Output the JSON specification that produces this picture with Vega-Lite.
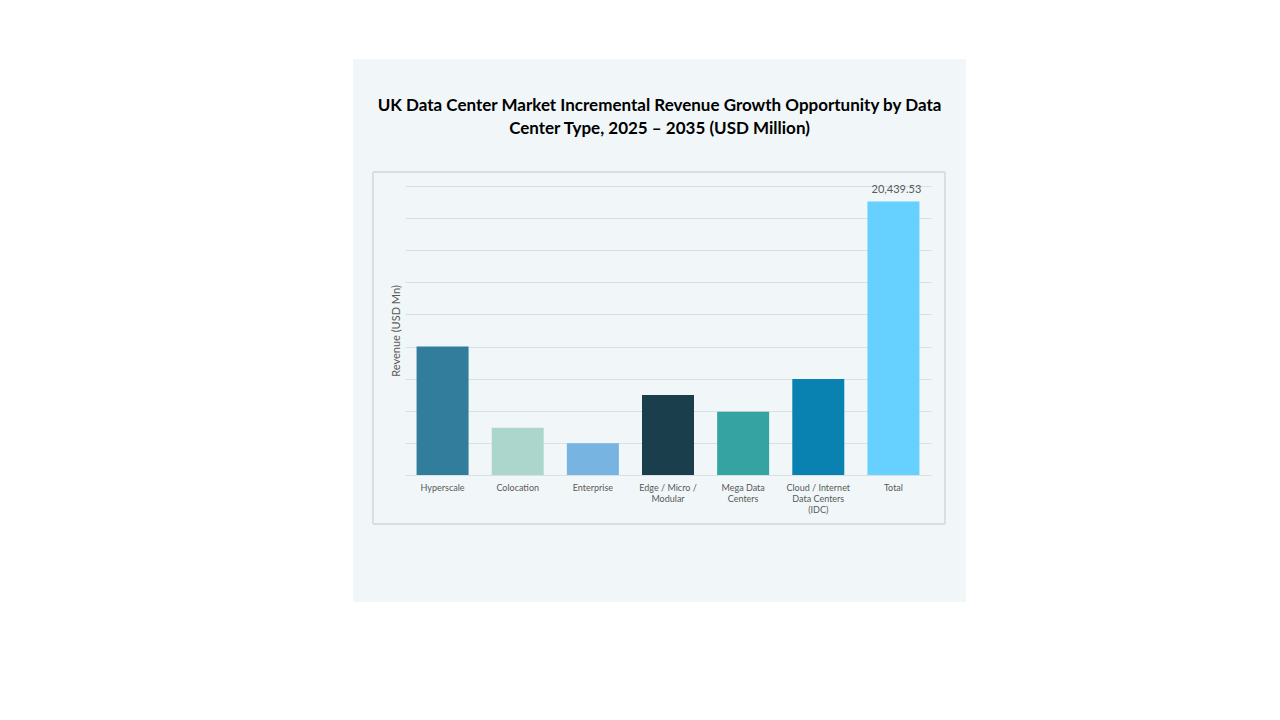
{
  "$schema": "https://vega.github.io/schema/vega-lite/v6.json",
  "description": "UK data center incremental revenue by type",
  "width": 613,
  "height": 543,
  "autosize": {"type": "none"},
  "padding": {"left": 353, "top": 59, "right": 314, "bottom": 118},
  "background": "white",
  "config": {
    "view": {"fill": "#f1f7f8", "stroke": null},
    "font": "Lato"
  },
  "data": {
    "values": [
      {"type": "Hyperscale", "value": 9600},
      {"type": "Colocation", "value": 3535},
      {"type": "Enterprise", "value": 2370},
      {"type": "Edge / Micro / Modular", "value": 5980},
      {"type": "Mega Data Centers", "value": 4730},
      {"type": "Cloud / Internet Data Centers (IDC)", "value": 7175},
      {"type": "Total", "value": 20439.53}
    ]
  },
  "layer": [
    {
      "mark": {"type": "rect", "fill": null, "stroke": "#d6e0e1", "strokeWidth": 1},
      "encoding": {
        "x": {
          "datum": 0,
          "type": "quantitative",
          "scale": {"domain": [0, 1], "range": [20, 592]},
          "axis": {
            "orient": "top",
            "offset": -78,
            "domain": false,
            "ticks": false,
            "labels": false,
            "grid": false,
            "title": ["UK Data Center Market Incremental Revenue Growth Opportunity by Data", "Center Type, 2025 – 2035 (USD Million)"],
            "titleFontSize": 17,
            "titleFontWeight": "bold",
            "titleColor": "black",
            "titleLineHeight": 23,
            "titlePadding": 0
          }
        },
        "x2": {"datum": 1},
        "y": {"datum": 0, "type": "quantitative", "scale": {"domain": [0, 1], "range": [465, 113]}, "axis": null},
        "y2": {"datum": 1}
      }
    },
    {
      "layer": [
        {
          "mark": {"type": "bar"},
          "encoding": {
            "x": {
              "field": "type",
              "type": "nominal",
              "sort": null,
              "scale": {"range": [52, 578], "paddingInner": 0.308, "paddingOuter": 0.154},
              "axis": {
                "orient": "bottom",
                "offset": -127,
                "domain": false,
                "ticks": false,
                "title": null,
                "labelAngle": 0,
                "labelPadding": 8,
                "labelFontSize": 9,
                "labelColor": "#595959",
                "labelLineHeight": 11,
                "labelExpr": "datum.value == 'Edge / Micro / Modular' ? ['Edge / Micro /', 'Modular'] : datum.value == 'Mega Data Centers' ? ['Mega Data', 'Centers'] : datum.value == 'Cloud / Internet Data Centers (IDC)' ? ['Cloud / Internet', 'Data Centers', '(IDC)'] : datum.label"
              }
            },
            "y": {
              "field": "value",
              "type": "quantitative",
              "scale": {"domain": [0, 21600], "range": [416, 127], "nice": false},
              "axis": {
                "values": [0, 2400, 4800, 7200, 9600, 12000, 14400, 16800, 19200, 21600],
                "offset": -50,
                "domain": false,
                "ticks": false,
                "labels": false,
                "grid": true,
                "gridColor": "#d9e0e1",
                "title": "Revenue (USD Mn)",
                "titleFontSize": 11,
                "titleFontWeight": "normal",
                "titleColor": "#595959",
                "titlePadding": 2
              }
            },
            "color": {
              "field": "type",
              "type": "nominal",
              "scale": {
                "domain": ["Hyperscale", "Colocation", "Enterprise", "Edge / Micro / Modular", "Mega Data Centers", "Cloud / Internet Data Centers (IDC)", "Total"],
                "range": ["#327c9c", "#acd6cc", "#77b4e2", "#1a3e4c", "#36a3a3", "#0a82b1", "#66d0ff"]
              },
              "legend": null
            }
          }
        },
        {
          "transform": [{"filter": "datum.type == 'Total'"}],
          "mark": {"type": "text", "dy": -12, "dx": 3, "fontSize": 11, "color": "#595959"},
          "encoding": {
            "x": {"field": "type", "type": "nominal", "sort": null},
            "y": {"field": "value", "type": "quantitative"},
            "text": {"field": "value", "type": "quantitative", "format": ",.2f"}
          }
        }
      ]
    }
  ],
  "resolve": {"scale": {"x": "independent", "y": "independent"}}
}
